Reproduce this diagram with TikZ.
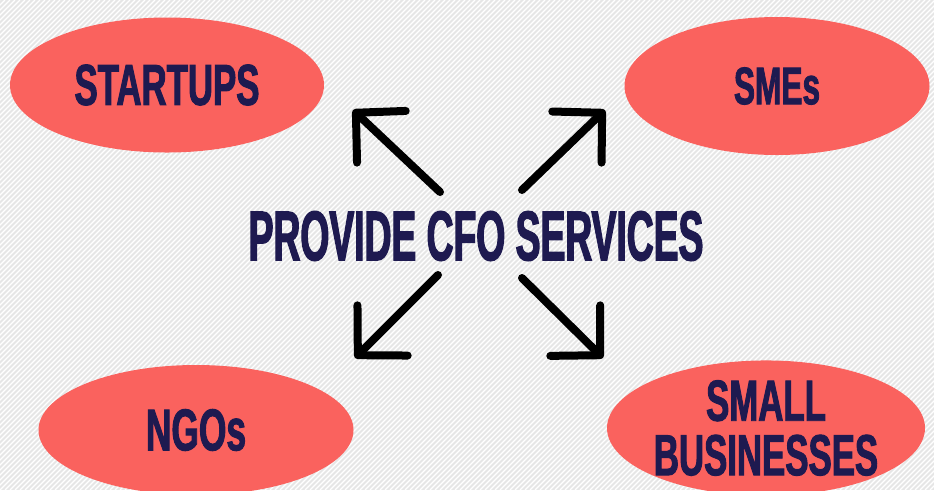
\documentclass[tikz,border=0pt]{standalone}
\usepackage{fontspec}
\usepackage{tikz}
\usetikzlibrary{shapes.geometric, positioning, arrows.meta, calc}
\newfontfamily\cfofont[FakeStretch=0.6, FakeBold=1.6]{Liberation Sans}
\newfontfamily\cfotitlefont[FakeStretch=0.53, FakeBold=1.8]{Liberation Sans}
\definecolor{salmon}{HTML}{FA625E}
\definecolor{navy}{HTML}{1E1A50}
\definecolor{paper}{HTML}{E6E6E6}
\tikzset{
  client/.style={ellipse, fill=salmon, text=navy, align=center, inner sep=0pt},
  service/.style={text=navy, inner sep=0pt, font=\cfotitlefont\bfseries\fontsize{40}{41}\selectfont},
  arrow/.style={line width=0.16cm, line cap=round, -{Straight Barb[length=0.7cm, width=1.42cm, round]}}
}

\begin{document}
\begin{tikzpicture}

    % 1. Fondo rayado
    \useasboundingbox (0,0) rectangle (18.68,-9.8);
    \fill[paper] (0,0) rectangle (18.68,-9.8);
    \begin{scope}
        \clip (0,0) rectangle (18.68,-9.8);
        \foreach \i in {0,...,285} {
            \draw[white, line width=0.7pt] (-9.8+\i*0.1, -9.8) -- ++(9.8, 9.8);
        }
    \end{scope}

    % 2. Texto central
    \node[service] (cfo) at (9.52, -4.72) {PROVIDE CFO SERVICES};

    % 3. Clientes (elipses)
    \node[client, minimum width=6.28cm, minimum height=2.70cm, font=\cfofont\bfseries\fontsize{33}{30}\selectfont] (startups) at (3.34, -1.70) {STARTUPS};
    \node[client, minimum width=6.10cm, minimum height=2.76cm, font=\cfofont\bfseries\fontsize{30}{30}\selectfont] (smes) at (15.54, -1.72) {SMEs};
    \node[client, minimum width=6.30cm, minimum height=2.60cm, font=\cfofont\bfseries\fontsize{33.5}{30}\selectfont] (ngos) at (3.92, -8.60) {NGOs};
    \node[client, minimum width=6.36cm, minimum height=2.64cm, font=\cfofont\bfseries\fontsize{33}{31}\selectfont] (small) at (15.32, -8.56) {SMALL\\BUSINESSES};

    % 4. Flechas (cola y punta)
    \coordinate (colaNO) at (8.80, -3.84);  \coordinate (puntaNO) at (7.06, -2.20);
    \coordinate (colaNE) at (10.44, -3.80); \coordinate (puntaNE) at (12.10, -2.20);
    \coordinate (colaSO) at (8.76, -5.50);  \coordinate (puntaSO) at (7.10, -7.16);
    \coordinate (colaSE) at (10.44, -5.56); \coordinate (puntaSE) at (12.06, -7.16);

    \draw[arrow] (colaNO) -- (puntaNO);
    \draw[arrow] (colaNE) -- (puntaNE);
    \draw[arrow] (colaSO) -- (puntaSO);
    \draw[arrow] (colaSE) -- (puntaSE);

\end{tikzpicture}
\end{document}
